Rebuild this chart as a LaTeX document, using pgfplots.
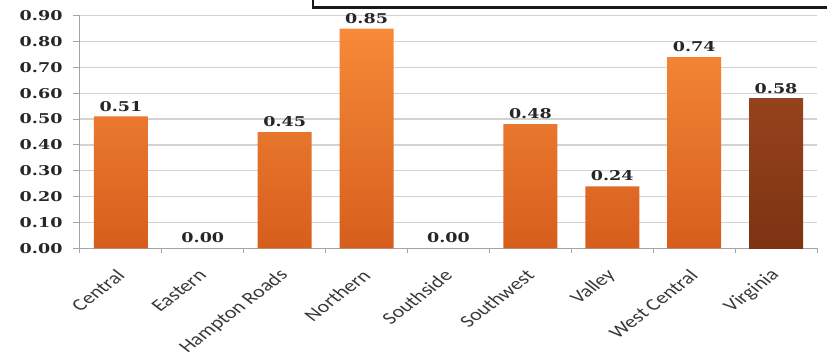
\documentclass[border=0pt]{standalone}
\usepackage{pgfplots}
\pgfplotsset{compat=1.18}
\usepackage{pgfplotstable}
\usepackage{fontspec}
\newfontfamily\numfont[FakeStretch=1.3]{DejaVu Serif}
\newfontfamily\labfont{Carlito}

\definecolor{barTop}{HTML}{F78A38}
\definecolor{barBot}{HTML}{D65E1D}
\definecolor{vaTop}{HTML}{95431C}
\definecolor{vaBot}{HTML}{7E3313}
\definecolor{gridgray}{HTML}{D2D2D2}
\definecolor{axisgray}{HTML}{A5A5A5}
\definecolor{labgray}{HTML}{383838}

% regional values (zero-valued regions kept apart: they have no visible bar)
\pgfplotstableread{
idx value
0 0.51
2 0.45
3 0.85
5 0.48
6 0.24
7 0.74
}\regions
\pgfplotstableread{
idx value
1 0.00
4 0.00
}\zeros
\pgfplotstableread{
idx value
8 0.58
}\state

\begin{document}
\begin{tikzpicture}[x=1pt,y=1pt]
\useasboundingbox (0,0) rectangle (827,362);
\begin{axis}[
  at={(80pt,113.7pt)}, anchor=south west,
  scale only axis, width=737pt, height=232.6pt,
  xmin=-0.5, xmax=8.5, ymin=0, ymax=0.9,
  clip=false,
  axis x line*=bottom, axis y line*=left,
  axis line style={axisgray, line width=1pt},
  ymajorgrids, grid style={gridgray, line width=1.3pt},
  tick align=outside,
  major tick length=7pt,
  minor tick length=5pt,
  ytick={0,0.1,0.2,0.3,0.4,0.5,0.6,0.7,0.8,0.9},
  ytick style={axisgray, line width=1pt},
  xtick={0,1,2,3,4,5,6,7,8},
  xticklabels={Central,Eastern,Hampton Roads,Northern,Southside,Southwest,Valley,West Central,Virginia},
  major x tick style={draw=none},
  minor xtick={-0.5,0.5,1.5,2.5,3.5,4.5,5.5,6.5,7.5,8.5},
  minor x tick style={axisgray, line width=1pt},
  yticklabel={\pgfmathprintnumber[assume math mode=true,fixed,fixed zerofill,precision=2]{\tick}},
  yticklabel style={font=\numfont\bfseries\fontsize{13.5}{14}\selectfont, text=black!85,
    xshift=-7pt},
  xticklabel style={font=\labfont\fontsize{17}{18}\selectfont, text=labgray,
    anchor=east, yshift=-15pt, xshift=3pt, xscale=1.3, rotate=45},
  nodes near coords={\pgfmathprintnumber[assume math mode=true,fixed,fixed zerofill,precision=2]{\pgfplotspointmeta}},
  every node near coord/.append style={font=\numfont\bfseries\fontsize{13.5}{14}\selectfont,
    text=black!85, anchor=south, inner sep=0pt, yshift=5pt},
]
\addplot[ybar, bar shift=0pt, bar width=54pt, draw=none,
  top color=barTop, bottom color=barBot] table[x=idx,y=value]{\regions};
\addplot[ybar, bar shift=0pt, bar width=54pt, draw=none, fill=none]
  table[x=idx,y=value]{\zeros};
\addplot[ybar, bar shift=0pt, bar width=54pt, draw=none,
  top color=vaTop, bottom color=vaBot] table[x=idx,y=value]{\state};
\end{axis}
% frame of the title box above the plot
\fill[white] (313,362) rectangle (830,354.5);
\draw[line width=2.5pt, black!90] (313,365) -- (313,354.5) -- (835,354.5);
\end{tikzpicture}
\end{document}
